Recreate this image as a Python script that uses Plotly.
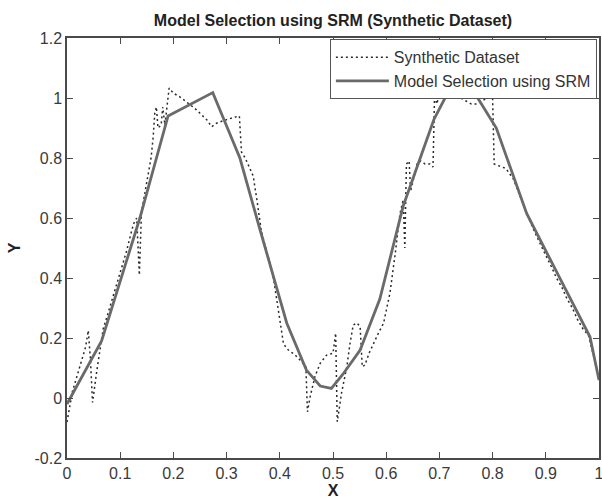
import plotly.graph_objects as go

# Synthetic dataset (dotted)
syn_x = [0.000, 0.003, 0.006, 0.010, 0.015, 0.020, 0.025, 0.030, 0.035, 0.040,
         0.044, 0.048, 0.052, 0.056, 0.062, 0.068, 0.075, 0.082, 0.090, 0.097,
         0.105, 0.112, 0.119, 0.125, 0.131, 0.136, 0.140, 0.146, 0.152, 0.158,
         0.162, 0.165, 0.168, 0.171, 0.177, 0.180, 0.184, 0.188, 0.192, 0.200,
         0.212, 0.228, 0.240, 0.250, 0.263, 0.272, 0.281, 0.295, 0.306, 0.319,
         0.324, 0.328, 0.335, 0.342, 0.350, 0.357, 0.365, 0.372, 0.380, 0.388,
         0.397, 0.407, 0.416, 0.429, 0.441, 0.449, 0.452, 0.457, 0.466, 0.476,
         0.488, 0.500, 0.505, 0.508, 0.516, 0.526, 0.532, 0.538, 0.545, 0.551,
         0.555, 0.560, 0.568, 0.576, 0.585, 0.595, 0.607, 0.617, 0.626, 0.632,
         0.635, 0.638, 0.643, 0.646, 0.652, 0.658, 0.665, 0.673, 0.682, 0.688,
         0.691, 0.695, 0.700, 0.710, 0.720, 0.730, 0.740, 0.750, 0.760, 0.770,
         0.780, 0.790, 0.800, 0.803, 0.810, 0.818, 0.825, 0.839, 0.850, 0.860,
         0.870, 0.880, 0.890, 0.900, 0.910, 0.920, 0.930, 0.940, 0.950, 0.960,
         0.970, 0.980, 0.990, 1.000]
syn_y = [-0.08, -0.05, -0.02, 0.02, 0.05, 0.08, 0.11, 0.14, 0.17, 0.225,
         0.13, -0.015, 0.03, 0.09, 0.16, 0.23, 0.27, 0.31, 0.36, 0.40,
         0.45, 0.49, 0.54, 0.58, 0.60, 0.41, 0.62, 0.68, 0.74, 0.80,
         0.87, 0.95, 0.97, 0.90, 0.91, 0.97, 0.91, 0.98, 1.033, 1.016,
         1.004, 0.982, 0.966, 0.949, 0.927, 0.904, 0.916, 0.925, 0.932, 0.938,
         0.94, 0.82, 0.80, 0.77, 0.74, 0.66, 0.56, 0.51, 0.46, 0.40,
         0.29, 0.18, 0.16, 0.143, 0.121, 0.104, -0.046, 0.004, 0.071, 0.116,
         0.143, 0.149, 0.216, -0.079, 0.016, 0.104, 0.182, 0.243, 0.25, 0.238,
         0.104, 0.11, 0.15, 0.182, 0.215, 0.249, 0.349, 0.482, 0.616, 0.66,
         0.50, 0.78, 0.79, 0.69, 0.74, 0.78, 0.79, 0.78, 0.78, 0.77,
         1.02, 0.98, 1.01, 1.00, 1.00, 1.00, 1.00, 0.99, 0.98, 0.98,
         0.99, 1.00, 1.00, 0.78, 0.775, 0.77, 0.765, 0.73, 0.68, 0.63,
         0.59, 0.55, 0.51, 0.475, 0.44, 0.40, 0.37, 0.33, 0.30, 0.26,
         0.23, 0.21, 0.14, 0.06]

# Model selected by SRM (solid)
model_x = [0.0, 0.065, 0.137, 0.19, 0.274, 0.325, 0.363, 0.413, 0.45, 0.476,
           0.497, 0.519, 0.551, 0.588, 0.632, 0.69, 0.712, 0.768, 0.807, 0.864,
           0.983, 1.0]
model_y = [-0.02, 0.19, 0.60, 0.94, 1.018, 0.80, 0.56, 0.25, 0.093, 0.04,
           0.032, 0.08, 0.16, 0.33, 0.64, 0.93, 1.005, 1.012, 0.90, 0.615,
           0.204, 0.06]

x_ticks = [0, 0.1, 0.2, 0.3, 0.4, 0.5, 0.6, 0.7, 0.8, 0.9, 1]
x_tick_text = ["0", "0.1", "0.2", "0.3", "0.4", "0.5", "0.6", "0.7", "0.8", "0.9", "1"]
y_ticks = [-0.2, 0, 0.2, 0.4, 0.6, 0.8, 1.0, 1.2]
y_tick_text = ["-0.2", "0", "0.2", "0.4", "0.6", "0.8", "1", "1.2"]

FONT = "Liberation Sans, Arial, sans-serif"
AX = "#4a4a4a"

W, H = 602, 500

fig = go.Figure()
fig.add_trace(go.Scatter(
    x=syn_x, y=syn_y, mode="lines", name="Synthetic Dataset",
    line=dict(color="#2a2a2a", width=1.5, dash="2px,3px"),
))
fig.add_trace(go.Scatter(
    x=model_x, y=model_y, mode="lines", name="Model Selection using SRM",
    line=dict(color="#6a6a6a", width=2.8),
))

axis_common = dict(
    showline=True, linecolor=AX, linewidth=1.5, mirror="ticks",
    ticks="inside", ticklen=6, tickwidth=1, tickcolor=AX,
    showgrid=False, zeroline=False, ticklabeloverflow="allow",
    automargin=False,
    tickfont=dict(family=FONT, size=16, color="#3a3a3a"),
)

fig.update_layout(
    width=W, height=H,
    margin=dict(l=67, r=3, t=38, b=42),
    paper_bgcolor="white", plot_bgcolor="white",
    title=dict(text="<b>Model Selection using SRM (Synthetic Dataset)</b>",
               x=(67 + 599) / 2 / W, xanchor="center",
               y=1 - 20 / H, yanchor="middle",
               font=dict(family=FONT, size=16, color="#222222")),
    xaxis=dict(range=[0, 1], tickvals=x_ticks, ticktext=x_tick_text,
               title=dict(text="<b>X</b>", standoff=0,
                          font=dict(family=FONT, size=16, color="#222222")),
               **axis_common),
    yaxis=dict(range=[-0.2, 1.2], tickvals=y_ticks, ticktext=y_tick_text,
               title=dict(text="<b>Y</b>", standoff=10,
                          font=dict(family=FONT, size=16, color="#222222")),
               **axis_common),
    legend=dict(x=0.996, xanchor="right", y=0.997, yanchor="top",
                bgcolor="white", bordercolor="#555555", borderwidth=1,
                font=dict(family=FONT, size=16, color="#333333"),
                tracegroupgap=0, itemwidth=53),
    showlegend=True,
)

fig.write_html("out.html",
               config={"displayModeBar": False},
               post_script="document.body.style.margin='0px';"
                           "document.body.style.overflow='hidden';")
